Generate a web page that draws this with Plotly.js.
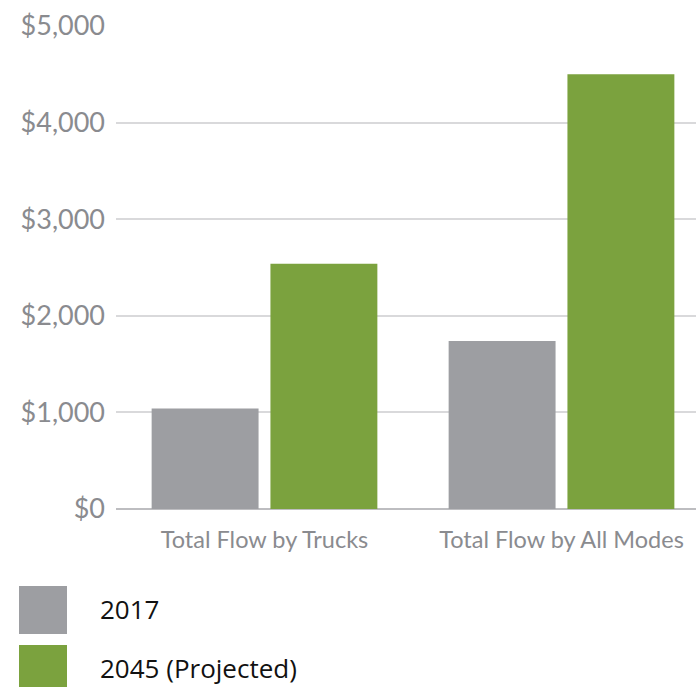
<!DOCTYPE html>
<html>
<head>
<meta charset="utf-8">
<script src="https://cdn.plot.ly/plotly-3.0.1.min.js"></script>
<style>
  html, body { margin: 0; padding: 0; background: #fff; overflow: hidden; }
  #chart { width: 696px; height: 687px; }
</style>
</head>
<body>
<div id="chart"></div>
<script>
// Freight flow value (millions of dollars)
const categories = ['Total Flow by Trucks', 'Total Flow by All Modes'];
const series2017 = [1040, 1740];
const series2045 = [2540, 4500];
const seriesNames = ['2017', '2045 (Projected)'];
const seriesColors = ['#9d9ea2', '#7ba23e'];
const yTicks = [0, 1000, 2000, 3000, 4000, 5000];
const yTickText = ['$0', '$1,000', '$2,000', '$3,000', '$4,000', '$5,000'];

const W = 696, H = 687;
const M = { l: 116, r: 0, t: 26, b: 178 };
const plotW = W - M.l - M.r, plotH = H - M.t - M.b;

// pixel -> paper helpers for the hand-built legend
const px = x => (x - M.l) / plotW;
const py = y => (H - M.b - y) / plotH;

const traces = [series2017, series2045].map((vals, i) => ({
    type: 'bar',
    x: categories,
    y: vals,
    name: seriesNames[i],
    marker: { color: seriesColors[i] },
    hoverinfo: 'x+y+name'
}));

// big square swatches + labels under the chart
const legendShapes = [], legendNotes = [];
seriesNames.forEach((name, i) => {
    const top = 586 + i * 59;
    legendShapes.push({
        type: 'rect', xref: 'paper', yref: 'paper',
        x0: px(19), x1: px(67), y0: py(top), y1: py(top + 48),
        fillcolor: seriesColors[i], line: { width: 0 }
    });
    legendNotes.push({
        xref: 'paper', yref: 'paper', x: px(98), y: py(top + 23),
        xanchor: 'left', yanchor: 'middle', showarrow: false,
        text: name, font: { family: 'Open Sans, sans-serif', size: 26, color: '#111' }
    });
});

const layout = {
    width: W, height: H,
    margin: M,
    paper_bgcolor: '#fff', plot_bgcolor: '#fff',
    showlegend: false,
    barmode: 'group',
    bargap: 0.2,
    bargroupgap: 0.1,
    xaxis: {
        range: [-0.5, 1 + (W - M.l - 297 * 1.5) / 297],
        showgrid: false, showline: false, zeroline: false, ticks: '',
        ticklabelstandoff: 14,
        tickfont: { family: 'Lato, sans-serif', size: 23.5, color: '#8a8b8f' },
        fixedrange: true
    },
    yaxis: {
        range: [0, 5000],
        tickmode: 'array',
        tickvals: yTicks,
        ticktext: yTickText,
        showgrid: true, gridcolor: '#d9d9db', gridwidth: 2,
        zeroline: true, zerolinecolor: '#bdbdc0', zerolinewidth: 2,
        showline: false, ticks: '',
        ticklabelstandoff: 10,
        tickfont: { family: 'Lato, sans-serif', size: 27, color: '#8a8b8f' },
        fixedrange: true
    },
    shapes: legendShapes,
    annotations: legendNotes
};

Plotly.newPlot('chart', traces, layout, { displayModeBar: false, staticPlot: true });
</script>
</body>
</html>
